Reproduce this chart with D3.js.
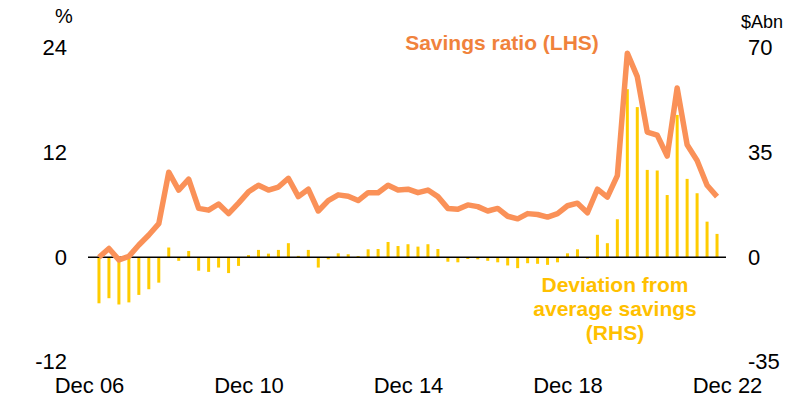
<!DOCTYPE html>
<html lang="en">
<head>
<meta charset="UTF-8">
<title>Savings ratio</title>
<script src="https://cdn.jsdelivr.net/npm/d3@7"></script>
<style>
  body { margin: 0; background: #fff; }
  text { font-family: "Liberation Sans", Arial, sans-serif; }
</style>
</head>
<body>
<div id="chart"></div>
<script>
// quarters Mar 07 .. Sep 22 (index 1..63, Dec 06 = 0)
let quarters = d3.range(1, 64)
let savingsRatio = [0.0, 1.0, -0.3, 0.1, 1.4, 2.55, 3.85, 9.75, 7.7, 8.95,
    5.6, 5.4, 6.1, 5.0, 6.2, 7.5, 8.25, 7.7, 8.05, 9.05,
    6.95, 7.8, 5.3, 6.5, 7.15, 7.0, 6.5, 7.4, 7.4, 8.25,
    7.7, 7.8, 7.4, 7.7, 6.95, 5.6, 5.5, 6.0, 5.8, 5.3,
    5.6, 4.7, 4.4, 5.0, 4.9, 4.6, 5.0, 5.9, 6.2, 5.1,
    7.8, 6.9, 9.35, 23.4, 20.7, 14.35, 14.0, 11.6, 19.4, 12.9,
    11.1, 8.25, 6.95]
let deviation = [-15.4, -13.7, -15.8, -15.1, -12.6, -10.7, -8.5, 3.25, -1.2, 2.1,
    -4.5, -4.9, -3.45, -5.3, -2.9, 0.7, 2.45, 1.2, 2.45, 4.7,
    0.45, 2.45, -3.45, -0.7, 1.3, 1.0, 0.4, 2.65, 2.75, 5.1,
    3.75, 4.35, 3.55, 4.35, 2.75, -1.5, -1.7, -0.6, -0.7, -1.2,
    -1.7, -2.75, -3.65, -2.0, -2.2, -2.55, -1.7, 1.3, 2.65, -0.5,
    7.5, 4.7, 12.7, 56.2, 50.2, 29.2, 29.0, 20.8, 47.6, 26.2,
    21.4, 11.9, 7.8]
let xTicks = [0, 16, 32, 48, 64]
let xTickLabels = ["Dec 06", "Dec 10", "Dec 14", "Dec 18", "Dec 22"]
let leftTicks = [-12, 0, 12, 24]
let rightTicks = [-35, 0, 35, 70]

let width = 810, height = 409

let svg = d3.select('#chart')
    .append('svg')
    .attr('width', width)
    .attr('height', height)

let x = d3.scaleLinear().domain([0, 64]).range([89, 727])
let yL = d3.scaleLinear().domain([-12, 24]).range([361.9, 47.9])
let yR = d3.scaleLinear().domain([-35, 70]).range([361.9, 47.9])

// bars (RHS)
svg.append('g')
    .selectAll('rect')
    .data(quarters)
    .enter()
    .append('rect')
    .attr('x', d => x(d) - 1.5)
    .attr('width', 3)
    .attr('y', (d, i) => Math.min(yR(deviation[i]), yR(0)))
    .attr('height', (d, i) => Math.abs(yR(deviation[i]) - yR(0)))
    .attr('fill', '#FFCC00')

// zero line
svg.append('line')
    .attr('x1', x(0) - 1).attr('x2', x(63.9))
    .attr('y1', yL(0)).attr('y2', yL(0))
    .attr('stroke', '#000')
    .attr('stroke-width', 1.5)

// savings ratio line (LHS)
let line = d3.line()
    .x((d, i) => x(quarters[i]))
    .y(d => yL(d))
svg.append('path')
    .datum(savingsRatio)
    .attr('d', line)
    .attr('fill', 'none')
    .attr('stroke', '#FA9158')
    .attr('stroke-width', 5.5)
    .attr('stroke-linejoin', 'round')

let plain = d => String(d)   // hyphen minus, not the unicode one

// left axis
let axL = svg.append('g')
    .attr('transform', 'translate(67,0)')
    .call(d3.axisLeft(yL).tickValues(leftTicks).tickFormat(plain).tickSize(0).tickPadding(0))
axL.select('.domain').remove()
axL.selectAll('text').attr('font-size', 22).attr('fill', '#000')
    .attr('font-family', '"Liberation Sans", Arial, sans-serif')

// right axis
let axR = svg.append('g')
    .attr('transform', 'translate(748,0)')
    .call(d3.axisRight(yR).tickValues(rightTicks).tickFormat(plain).tickSize(0).tickPadding(0))
axR.select('.domain').remove()
axR.selectAll('text').attr('font-size', 22).attr('fill', '#000')
    .attr('font-family', '"Liberation Sans", Arial, sans-serif')

// bottom axis
let axB = svg.append('g')
    .attr('transform', 'translate(0,377)')
    .call(d3.axisBottom(x).tickValues(xTicks).tickFormat((d, i) => xTickLabels[i]).tickSize(0).tickPadding(0))
axB.select('.domain').remove()
axB.selectAll('text').attr('font-size', 22).attr('fill', '#000')
    .attr('font-family', '"Liberation Sans", Arial, sans-serif')

// units
svg.append('text').attr('x', 64).attr('y', 23).attr('text-anchor', 'middle')
    .attr('font-size', 20).text('%')
svg.append('text').attr('x', 762).attr('y', 28).attr('text-anchor', 'middle')
    .attr('font-size', 18).text('$Abn')

// series labels
svg.append('text').attr('x', 502).attr('y', 50).attr('text-anchor', 'middle')
    .attr('font-size', 21).attr('font-weight', 'bold').attr('fill', '#F0823C')
    .text('Savings ratio (LHS)')

let devLabel = ['Deviation from', 'average savings', '(RHS)']
svg.append('g').selectAll('text')
    .data(devLabel)
    .enter()
    .append('text')
    .attr('x', 615)
    .attr('y', (d, i) => 292 + i * 24)
    .attr('text-anchor', 'middle')
    .attr('font-size', 21).attr('font-weight', 'bold').attr('fill', '#FFC000')
    .text(d => d)
</script>
</body>
</html>
